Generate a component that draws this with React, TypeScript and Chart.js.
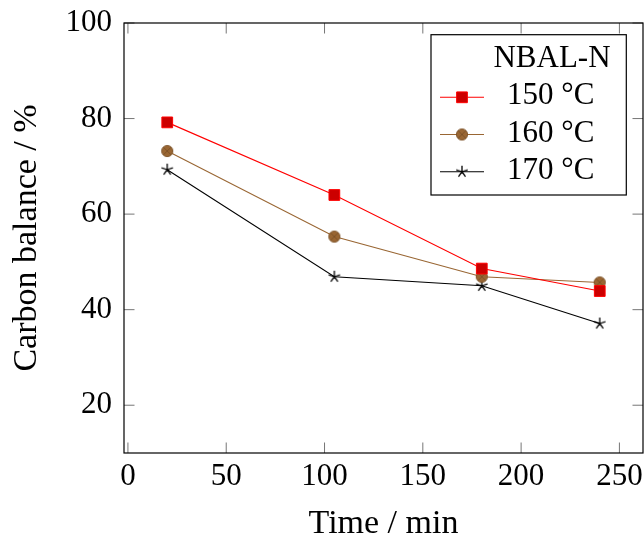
import { useEffect, useRef } from 'react';
import { Chart, registerables } from 'chart.js';
import { drawPoint } from 'chart.js/helpers';

Chart.register(...registerables);

// Reaction time (min) and carbon balance (%) per temperature
const timeMin = [20, 105, 180, 240];
const balance150 = [79.2, 64.0, 48.6, 43.9];
const balance160 = [73.2, 55.3, 46.9, 45.7];
const balance170 = [69.3, 46.9, 45.0, 37.1];
const seriesLabels = ['150 °C', '160 °C', '170 °C'];
const legendTitle = 'NBAL-N';
const xTicks = [0, 50, 100, 150, 200, 250];
const yTicks = [20, 40, 60, 80, 100];
const xTitle = 'Time / min';
const yTitle = 'Carbon balance / %';

const FONT = '"Liberation Serif", "Times New Roman", serif';
const FONT_SIZE = 31;
const TITLE_SIZE = 34;

// Filled circle with a cross inside (otimes-style marker)
function makeOtimes(): HTMLCanvasElement {
  const c = document.createElement('canvas');
  c.width = 14;
  c.height = 14;
  const g = c.getContext('2d')!;
  const r = 5.6;
  g.beginPath();
  g.arc(7, 7, r, 0, Math.PI * 2);
  g.fillStyle = '#996633';
  g.fill();
  g.lineWidth = 0.9;
  g.strokeStyle = '#7a5026';
  g.stroke();
  const d = r * Math.SQRT1_2;
  g.beginPath();
  g.moveTo(7 - d, 7 - d);
  g.lineTo(7 + d, 7 + d);
  g.moveTo(7 + d, 7 - d);
  g.lineTo(7 - d, 7 + d);
  g.stroke();
  return c;
}

// Five-armed star marker
function makeStar(): HTMLCanvasElement {
  const c = document.createElement('canvas');
  c.width = 14;
  c.height = 14;
  const g = c.getContext('2d')!;
  const r = 6;
  g.strokeStyle = '#000';
  g.lineWidth = 1.3;
  g.beginPath();
  for (let k = 0; k < 5; k++) {
    const a = -Math.PI / 2 + (k * 2 * Math.PI) / 5;
    g.moveTo(7, 7);
    g.lineTo(7 + r * Math.cos(a), 7 + r * Math.sin(a));
  }
  g.stroke();
  return c;
}

const frameAndLegend = {
  id: 'frameAndLegend',
  beforeDatasetsDraw(chart: any) {
    const { ctx, chartArea: a, scales } = chart;
    const tl = 10.5;
    ctx.save();
    ctx.strokeStyle = '#666';
    ctx.lineWidth = 0.9;
    ctx.beginPath();
    for (const t of scales.x.ticks) {
      const px = scales.x.getPixelForValue(t.value);
      ctx.moveTo(px, a.bottom);
      ctx.lineTo(px, a.bottom - tl);
      ctx.moveTo(px, a.top);
      ctx.lineTo(px, a.top + tl);
    }
    for (const t of scales.y.ticks) {
      const py = scales.y.getPixelForValue(t.value);
      ctx.moveTo(a.left, py);
      ctx.lineTo(a.left + tl, py);
      ctx.moveTo(a.right, py);
      ctx.lineTo(a.right - tl, py);
    }
    ctx.stroke();
    ctx.restore();
  },
  afterDraw(chart: any) {
    const { ctx, chartArea: a } = chart;
    ctx.save();
    // axis frame
    ctx.strokeStyle = '#000';
    ctx.lineWidth = 1.2;
    ctx.strokeRect(a.left, a.top, a.right - a.left, a.bottom - a.top);

    // legend box
    const bx = 431, by = 34.7, bw = 195.3, bh = 160.3;
    ctx.fillStyle = '#fff';
    ctx.fillRect(bx, by, bw, bh);
    ctx.strokeRect(bx, by, bw, bh);

    ctx.font = `${FONT_SIZE}px ${FONT}`;
    ctx.fillStyle = '#000';
    ctx.textBaseline = 'middle';
    ctx.textAlign = 'center';
    ctx.fillText(legendTitle, 552, 59);

    ctx.textAlign = 'left';
    chart.data.datasets.forEach((ds: any, i: number) => {
      const ry = 97.3 + i * 37.2;
      ctx.strokeStyle = ds.borderColor;
      ctx.lineWidth = ds.borderWidth;
      ctx.beginPath();
      ctx.moveTo(440, ry);
      ctx.lineTo(484, ry);
      ctx.stroke();
      ctx.fillStyle = ds.pointBackgroundColor;
      ctx.strokeStyle = ds.pointBorderColor;
      ctx.lineWidth = ds.pointBorderWidth;
      drawPoint(ctx, {
        pointStyle: ds.pointStyle,
        radius: ds.pointRadius,
        borderWidth: ds.pointBorderWidth,
        rotation: 0,
      }, 462, ry);
      ctx.fillStyle = '#000';
      ctx.fillText(ds.label, 507, ry - 1);
    });
    ctx.restore();
  },
};

// Keep the plot frame fixed: no extra room reserved for overhanging labels
function noLabelPadding(s: any) {
  s.paddingTop = 0;
  s.paddingBottom = 0;
  s.paddingLeft = 0;
  s.paddingRight = 0;
}

export default function App() {
  const ref = useRef<HTMLCanvasElement>(null);

  useEffect(() => {
    if (!ref.current) return;
    const otimes = makeOtimes();
    const star = makeStar();
    const tickFont = { family: FONT, size: FONT_SIZE };

    const chart = new Chart(ref.current, {
      type: 'line',
      data: {
        datasets: [
          {
            label: seriesLabels[0],
            data: timeMin.map((t, i) => ({ x: t, y: balance150[i] })),
            borderColor: '#ff0000',
            borderWidth: 1.1,
            pointStyle: 'rect',
            pointRadius: 7.6,
            pointBackgroundColor: '#cc0000',
            pointBorderColor: '#ff0000',
            pointBorderWidth: 1,
          },
          {
            label: seriesLabels[1],
            data: timeMin.map((t, i) => ({ x: t, y: balance160[i] })),
            borderColor: '#996633',
            borderWidth: 1.1,
            pointStyle: otimes,
            pointRadius: 6,
            pointBackgroundColor: '#996633',
            pointBorderColor: '#7a5026',
            pointBorderWidth: 1,
          },
          {
            label: seriesLabels[2],
            data: timeMin.map((t, i) => ({ x: t, y: balance170[i] })),
            borderColor: '#000000',
            borderWidth: 1.1,
            pointStyle: star,
            pointRadius: 6,
            pointBackgroundColor: '#000000',
            pointBorderColor: '#000000',
            pointBorderWidth: 1,
          },
        ] as any,
      },
      options: {
        responsive: false,
        animation: false,
        layout: { autoPadding: false, padding: { left: 0, right: 1, top: 23, bottom: 0 } },
        plugins: {
          legend: { display: false },
          tooltip: { enabled: false },
        },
        elements: { line: { tension: 0 } },
        scales: {
          x: {
            type: 'linear',
            min: -2,
            max: 262,
            grid: { display: false, drawTicks: false },
            border: { display: false },
            afterBuildTicks: (s: any) => {
              s.ticks = xTicks.map((v) => ({ value: v }));
            },
            afterFit: (s: any) => {
              s.height = 83;
              noLabelPadding(s);
            },
            ticks: {
              font: tickFont,
              color: '#000',
              padding: 5,
              maxRotation: 0,
              autoSkip: false,
            },
            title: {
              display: true,
              text: xTitle,
              color: '#000',
              font: { family: FONT, size: TITLE_SIZE, lineHeight: 0.72 },
              padding: 0,
            },
          },
          y: {
            type: 'linear',
            min: 10,
            max: 100,
            grid: { display: false, drawTicks: false },
            border: { display: false },
            afterBuildTicks: (s: any) => {
              s.ticks = yTicks.map((v) => ({ value: v }));
            },
            afterFit: (s: any) => {
              s.width = 124;
              noLabelPadding(s);
            },
            ticks: {
              font: tickFont,
              color: '#000',
              padding: 12,
              autoSkip: false,
            },
            title: {
              display: true,
              text: yTitle,
              color: '#000',
              font: { family: FONT, size: TITLE_SIZE },
              padding: { top: 7, bottom: 0 },
            },
          },
        },
      },
      plugins: [frameAndLegend],
    } as any);

    return () => chart.destroy();
  }, []);

  return (
    <div style={{ position: 'fixed', left: 0, top: 0, width: 644, height: 536, background: '#fff' }}>
      <canvas ref={ref} width={644} height={536} />
    </div>
  );
}
